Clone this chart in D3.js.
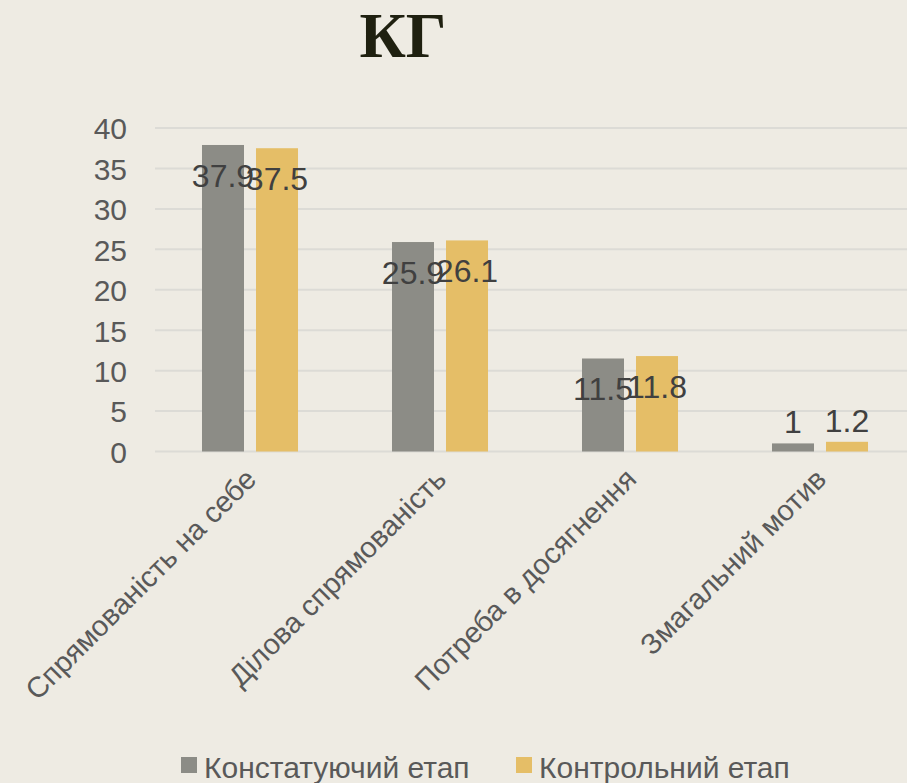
<!DOCTYPE html>
<html>
<head>
<meta charset="utf-8">
<script src="https://cdn.jsdelivr.net/npm/d3@7"></script>
<style>
  body { margin: 0; background: #eeebe3; }
  svg { display: block; }
  .tick text { font-family: "Liberation Sans", Arial, sans-serif; }
</style>
</head>
<body>
<svg id="chart"></svg>
<script>
var categories = ["Спрямованість на себе", "Ділова спрямованість", "Потреба в досягнення", "Змагальний мотив"];
var seriesNames = ["Констатуючий етап", "Контрольний етап"];
var constat = [37.9, 25.9, 11.5, 1];
var control = [37.5, 26.1, 11.8, 1.2];
var yTicks = [0, 5, 10, 15, 20, 25, 30, 35, 40];
var colors = ["#8c8c86", "#e5be67"];

var w = 907;
var h = 783;
var padding = { top: 128, bottom: 332, left: 155, right: -8 };

var svg = d3.select("#chart")
  .attr("width", w)
  .attr("height", h);

svg.append("rect")
  .attr("width", w)
  .attr("height", h)
  .attr("fill", "#eeebe3");

// title
svg.append("text")
  .text("КГ")
  .attr("x", 403)
  .attr("y", 57)
  .attr("text-anchor", "middle")
  .attr("font-family", "'Liberation Serif', 'Times New Roman', serif")
  .attr("font-weight", "bold")
  .attr("font-size", 64)
  .attr("fill", "#1f2010");

var yScale = d3.scaleLinear()
  .domain([0, 40])
  .range([h - padding.bottom + 0.5, padding.top]);

var xScale = d3.scaleBand()
  .domain(categories)
  .range([padding.left, w - padding.right])
  .paddingInner(0)
  .paddingOuter(0);

var inner = d3.scaleBand()
  .domain([0, 1])
  .range([0, xScale.bandwidth()])
  .paddingInner(0.222)
  .paddingOuter(0.87);

// gridlines
svg.append("g")
  .selectAll("line")
  .data(yTicks)
  .enter()
  .append("line")
  .attr("x1", padding.left)
  .attr("x2", w)
  .attr("y1", function(d) { return yScale(d); })
  .attr("y2", function(d) { return yScale(d); })
  .attr("stroke", "#dcdbd6")
  .attr("stroke-width", 2);

// y axis labels
var yAxis = d3.axisLeft(yScale)
  .tickValues(yTicks)
  .tickSize(0)
  .tickPadding(0);

var yg = svg.append("g")
  .attr("transform", "translate(127,0)")
  .call(yAxis);
yg.select(".domain").remove();
yg.selectAll("text")
  .attr("font-size", 30)
  .attr("fill", "#595959")
  .attr("dy", "0.36em");

// bars
var series = [constat, control];
series.forEach(function(values, s) {
  svg.append("g")
    .selectAll("rect")
    .data(values)
    .enter()
    .append("rect")
    .attr("x", function(d, i) { return xScale(categories[i]) + inner(s); })
    .attr("width", inner.bandwidth())
    .attr("y", function(d) { return yScale(d); })
    .attr("height", function(d) { return yScale(0) - yScale(d); })
    .attr("fill", colors[s]);

  svg.append("g")
    .selectAll("text")
    .data(values)
    .enter()
    .append("text")
    .text(function(d) { return d; })
    .attr("x", function(d, i) { return xScale(categories[i]) + inner(s) + inner.bandwidth() / 2; })
    .attr("y", function(d) {
      var top = yScale(d);
      var base = top + 42;
      if (base > yScale(0) - 4) base = top - 10;
      return base;
    })
    .attr("text-anchor", "middle")
    .attr("font-family", "'Liberation Sans', Arial, sans-serif")
    .attr("font-size", 32)
    .attr("fill", "#404040");
});

// category labels
svg.append("g")
  .selectAll("text")
  .data(categories)
  .enter()
  .append("text")
  .text(function(d) { return d; })
  .attr("text-anchor", "end")
  .attr("transform", function(d) {
    return "translate(" + (xScale(d) + xScale.bandwidth() / 2 + 8) + "," + 481 + ") rotate(-45)";
  })
  .attr("font-family", "'Liberation Sans', Arial, sans-serif")
  .attr("font-size", 29)
  .attr("fill", "#595959");

// legend
var legendX = [181, 516];
seriesNames.forEach(function(name, i) {
  svg.append("rect")
    .attr("x", legendX[i])
    .attr("y", 757)
    .attr("width", 16)
    .attr("height", 16)
    .attr("fill", colors[i]);
  svg.append("text")
    .text(name)
    .attr("x", legendX[i] + 23)
    .attr("y", 778)
    .attr("font-family", "'Liberation Sans', Arial, sans-serif")
    .attr("font-size", 30)
    .attr("fill", "#595959");
});
</script>
</body>
</html>
